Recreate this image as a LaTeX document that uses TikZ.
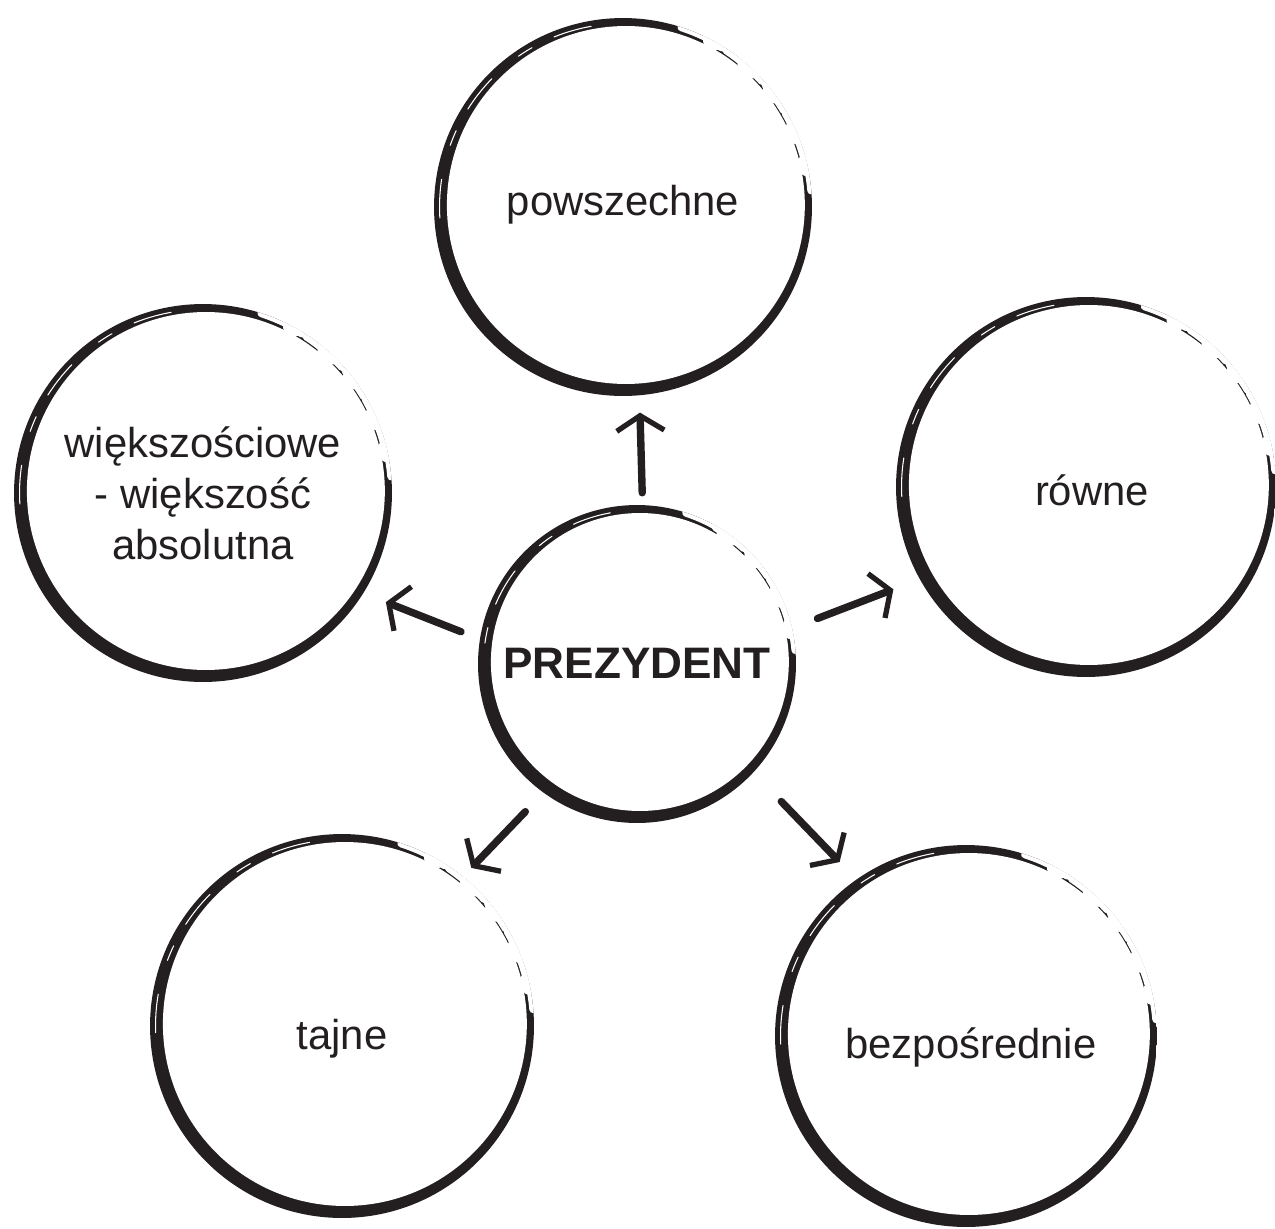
\documentclass[tikz,border=0pt]{standalone}
\usepackage{fontspec}
\setmainfont{Liberation Sans}
\usetikzlibrary{arrows.meta}
\definecolor{ink}{RGB}{35,31,32}
\begin{document}
\begin{tikzpicture}[x=0.02cm, y=-0.02cm, line join=round, line cap=round,
		font=\fontsize{23.8}{29}\selectfont, text=ink,
		brush/.style={circle, inner sep=0pt, minimum size=2*#1, align=center,
			path picture={
				\fill[ink] (path picture bounding box.south west) rectangle (path picture bounding box.north east);
				\fill[white] ([shift={(35:0.07cm)}]path picture bounding box.center) circle ({#1-0.2cm});
				\draw[white, line width=0.6pt, dash pattern=on 22pt off 14pt on 9pt off 20pt]
					([shift={(100:#1-0.11cm)}]path picture bounding box.center) arc[start angle=100, end angle=185, radius=#1-0.11cm];
				\draw[white, line width=4.5pt]
					([shift={(5:#1)}]path picture bounding box.center) arc[start angle=5, end angle=72, radius=#1];
				\draw[white, line width=6pt, dash pattern=on 18pt off 3pt on 7pt off 2pt]
					([shift={(15:#1)}]path picture bounding box.center) arc[start angle=15, end angle=60, radius=#1];
				\draw[white, line width=10pt, dash pattern=on 3pt off 16pt on 5pt off 22pt]
					([shift={(12:#1)}]path picture bounding box.center) arc[start angle=12, end angle=62, radius=#1];
			}},
		drop/.style={text height=2*#1, text depth=0pt},
		arr/.style={draw=ink, line width=4.2pt, -{Straight Barb[length=0.3cm, width=0.95cm, line width=3pt]}}]
	\useasboundingbox (0,0) rectangle (1275,1228);
	\node[brush=3.18cm, drop=0.28cm] (prez) at (637,664) {\fontsize{25.1}{30}\selectfont\bfseries PREZYDENT};
	\node[brush=3.78cm, drop=0.16cm] (powsz) at (623,207) {powszechne};
	\node[brush=3.78cm] (wiek) at (203,493) {większościowe\\- większość\\absolutna};
	\node[brush=3.8cm, drop=0.36cm] (rown) at (1086,487) {\hspace{0.24cm}równe};
	\node[brush=3.84cm, drop=0.46cm] (tajne) at (342,1026) {tajne};
	\node[brush=3.82cm, drop=0.44cm] (bezp) at (966,1036) {\hspace{0.2cm}bezpośrednie};
	% strzalki od prezydenta
	\foreach \p/\t/\q/\s/\e in {88/powsz/-85/0.24/0.34, 171/wiek/-32/0.40/0.48, 13/rown/209/0.54/0.56, 234/tajne/51/0.52/0.24, -43/bezp/125/0.80/0.48}
		\draw[arr, shorten <=\s cm, shorten >=\e cm] (prez.\p) -- (\t.\q);
\end{tikzpicture}
\end{document}
